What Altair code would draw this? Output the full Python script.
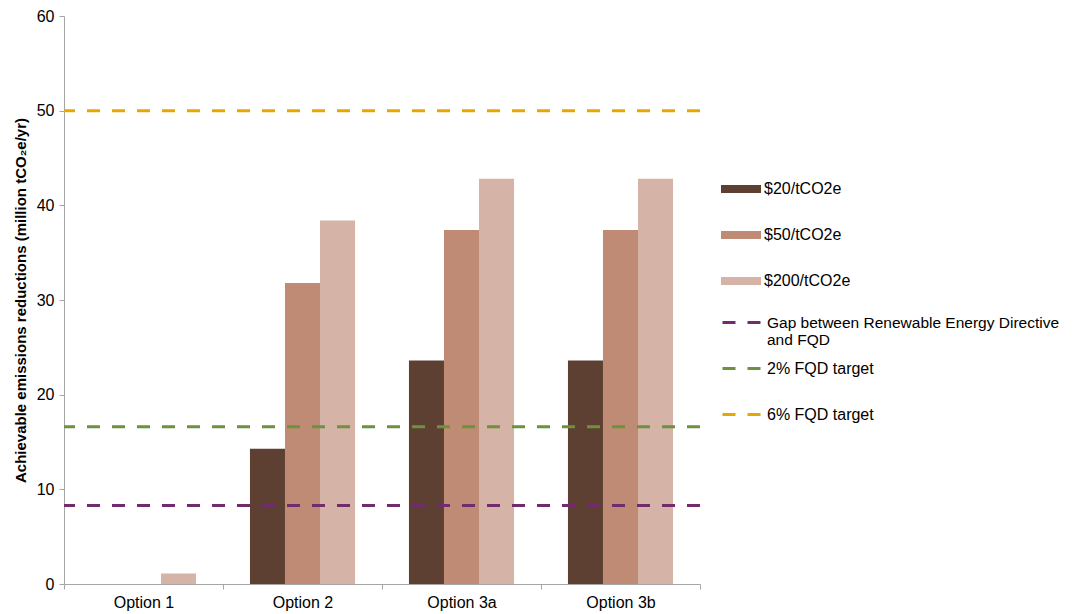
import altair as alt
import pandas as pd

options = ["Option 1", "Option 2", "Option 3a", "Option 3b"]
prices = ["$20/tCO2e", "$50/tCO2e", "$200/tCO2e"]
v20 = [0, 14.3, 23.6, 23.6]
v50 = [0, 31.8, 37.4, 37.4]
v200 = [1.1, 38.4, 42.8, 42.8]
price_colors = ["#5E4033", "#BF8B74", "#D5B3A7"]

gap_name = ["Gap between Renewable Energy Directive and FQD"]
gap_value = [8.3]
gap_color = ["#722C6E"]
target_names = ["2% FQD target", "6% FQD target"]
target_values = [16.6, 50]
target_colors = ["#6E9140", "#E6A800"]

y_ticks = [0, 10, 20, 30, 40, 50, 60]

rows = []
for p, vals in zip(prices, [v20, v50, v200]):
    for o, v in zip(options, vals):
        rows.append({"option": o, "price": p, "value": v})
bar_df = pd.DataFrame(rows)
gap_df = pd.DataFrame({"name": gap_name, "value": gap_value})
target_df = pd.DataFrame({"name": target_names, "value": target_values})

FONT = "Liberation Sans"
FS = 16

bars = alt.Chart(bar_df).mark_bar().encode(
    x=alt.X("option:N", sort=options,
            scale=alt.Scale(paddingInner=0, paddingOuter=0),
            axis=alt.Axis(title=None, tickBand="extent", labelAngle=0, labelFontSize=FS,
                          labelFont=FONT, labelColor="#000", domainColor="#A6A6A6",
                          tickColor="#A6A6A6", tickSize=5, labelPadding=5)),
    xOffset=alt.XOffset("price:N", sort=prices,
                        scale=alt.Scale(paddingInner=0, paddingOuter=0.77)),
    y=alt.Y("value:Q", scale=alt.Scale(domain=[0, 60]),
            axis=alt.Axis(values=y_ticks, grid=False,
                          title="Achievable emissions reductions (million tCO₂e/yr)",
                          titleFont=FONT, titleFontSize=15, titleFontWeight="bold",
                          titleColor="#000", titlePadding=8,
                          labelFont=FONT, labelFontSize=FS, labelColor="#000",
                          domainColor="#A6A6A6", tickColor="#A6A6A6", tickSize=5,
                          labelPadding=5)),
    fill=alt.Fill("price:N", sort=prices,
                  scale=alt.Scale(domain=prices, range=price_colors),
                  legend=alt.Legend(title=None, orient="none", legendX=657, legendY=153,
                                    symbolType="M-1,-0.2H1V0.2H-1Z", symbolSize=1600,
                                    symbolStrokeWidth=0, labelFont=FONT, labelFontSize=FS,
                                    labelColor="#000", rowPadding=18, padding=0,
                                    labelOffset=3)),
)

gap_rule = alt.Chart(gap_df).mark_rule(strokeWidth=3, strokeDash=[13, 12]).encode(
    y=alt.Y("value:Q"),
    color=alt.Color("name:N",
                    scale=alt.Scale(domain=gap_name, range=gap_color),
                    legend=alt.Legend(title=None, orient="none", legendX=657, legendY=285,
                                      symbolType="stroke", symbolSize=1600,
                                      symbolStrokeWidth=3, symbolDash=[13, 12],
                                      labelFont=FONT, labelFontSize=15.5, labelColor="#000",
                                      padding=0, labelOffset=3, labelLimit=400,
                                      labelExpr="['Gap between Renewable Energy Directive', 'and FQD']")),
)

target_rules = alt.Chart(target_df).mark_rule(strokeWidth=3, strokeDash=[13, 12]).encode(
    y=alt.Y("value:Q"),
    stroke=alt.Stroke("name:N", sort=target_names,
                      scale=alt.Scale(domain=target_names, range=target_colors),
                      legend=alt.Legend(title=None, orient="none", legendX=657, legendY=331,
                                        symbolType="stroke", symbolSize=1600,
                                        symbolStrokeWidth=3, symbolDash=[13, 12],
                                        labelFont=FONT, labelFontSize=FS, labelColor="#000",
                                        rowPadding=16, padding=0, labelOffset=3, labelLimit=400)),
)

chart = alt.layer(bars, gap_rule, target_rules).resolve_legend(
    fill="independent", color="independent", stroke="independent"
).properties(
    width=636, height=568,
    autosize=alt.AutoSizeParams(type="none"),
    padding={"left": 56, "top": 8, "right": 365, "bottom": 30},
).configure(background="white").configure_view(stroke="transparent", strokeWidth=0)

chart.save("out.html", embed_options={"renderer": "svg", "actions": False})
